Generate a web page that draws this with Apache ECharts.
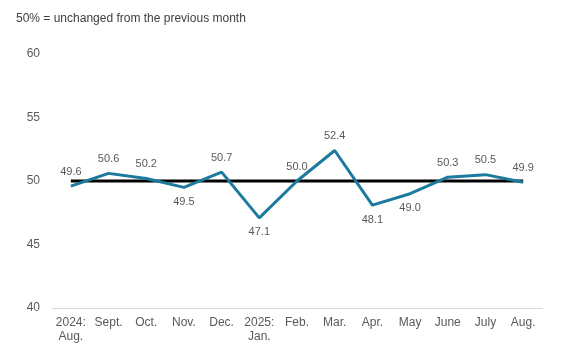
<!DOCTYPE html>
<html><head><meta charset="utf-8">
<script src="https://cdn.jsdelivr.net/npm/echarts@6/dist/echarts.min.js"></script>
<style>html,body{margin:0;padding:0;background:#fff}#c{width:567px;height:362px}</style>
</head><body><div id="c"></div>
<script>
const categories = ['2024:\nAug.','Sept.','Oct.','Nov.','Dec.','2025:\nJan.','Feb.','Mar.','Apr.','May','June','July','Aug.'];
const values = [49.6,50.6,50.2,49.5,50.7,47.1,50.0,52.4,48.1,49.0,50.3,50.5,49.9];
const labelPos = ['top','top','top','bottom','top','bottom','top','top','bottom','bottom','top','top','top'];
const baseline = [50,50,50,50,50,50,50,50,50,50,50,50,50];
const yTicks = [40,45,50,55,60];
const title = '50% = unchanged from the previous month';

const chart = echarts.init(document.getElementById('c'), null, {renderer:'canvas'});
const font = 'Liberation Sans, Arial, sans-serif';
chart.setOption({
  animation:false,
  textStyle:{fontFamily:font},
  title:{text:title,left:11,top:8,textStyle:{fontSize:12,fontWeight:'normal',color:'#404040',fontFamily:font}},
  grid:{left:52,right:25,top:54,bottom:54},
  xAxis:{type:'category',data:categories,boundaryGap:true,
    axisLine:{lineStyle:{color:'#d9d9d9',width:1}},axisTick:{show:false},
    axisLabel:{color:'#595959',fontSize:12,fontFamily:font,margin:8,interval:0,lineHeight:14}},
  yAxis:{type:'value',min:yTicks[0],max:yTicks[yTicks.length-1],interval:5,
    splitLine:{show:false},axisLine:{show:false},axisTick:{show:false},
    axisLabel:{color:'#595959',fontSize:12,fontFamily:font,margin:12}},
  series:[
    {type:'line',data:baseline,symbol:'none',lineStyle:{color:'#000',width:3},z:2},
    {type:'line',data:values.map((v,i)=>({value:v,label:{show:true,position:labelPos[i]}})),
      symbol:'circle',symbolSize:0,showSymbol:true,showAllSymbol:true,
      itemStyle:{color:'rgba(0,0,0,0)',borderWidth:0},
      lineStyle:{color:'#1b7a9e',width:3},z:3,
      label:{show:true,distance:9,color:'#595959',fontSize:11,fontFamily:font,formatter:p=>p.value.toFixed(1)}}
  ]
});
</script></body></html>
